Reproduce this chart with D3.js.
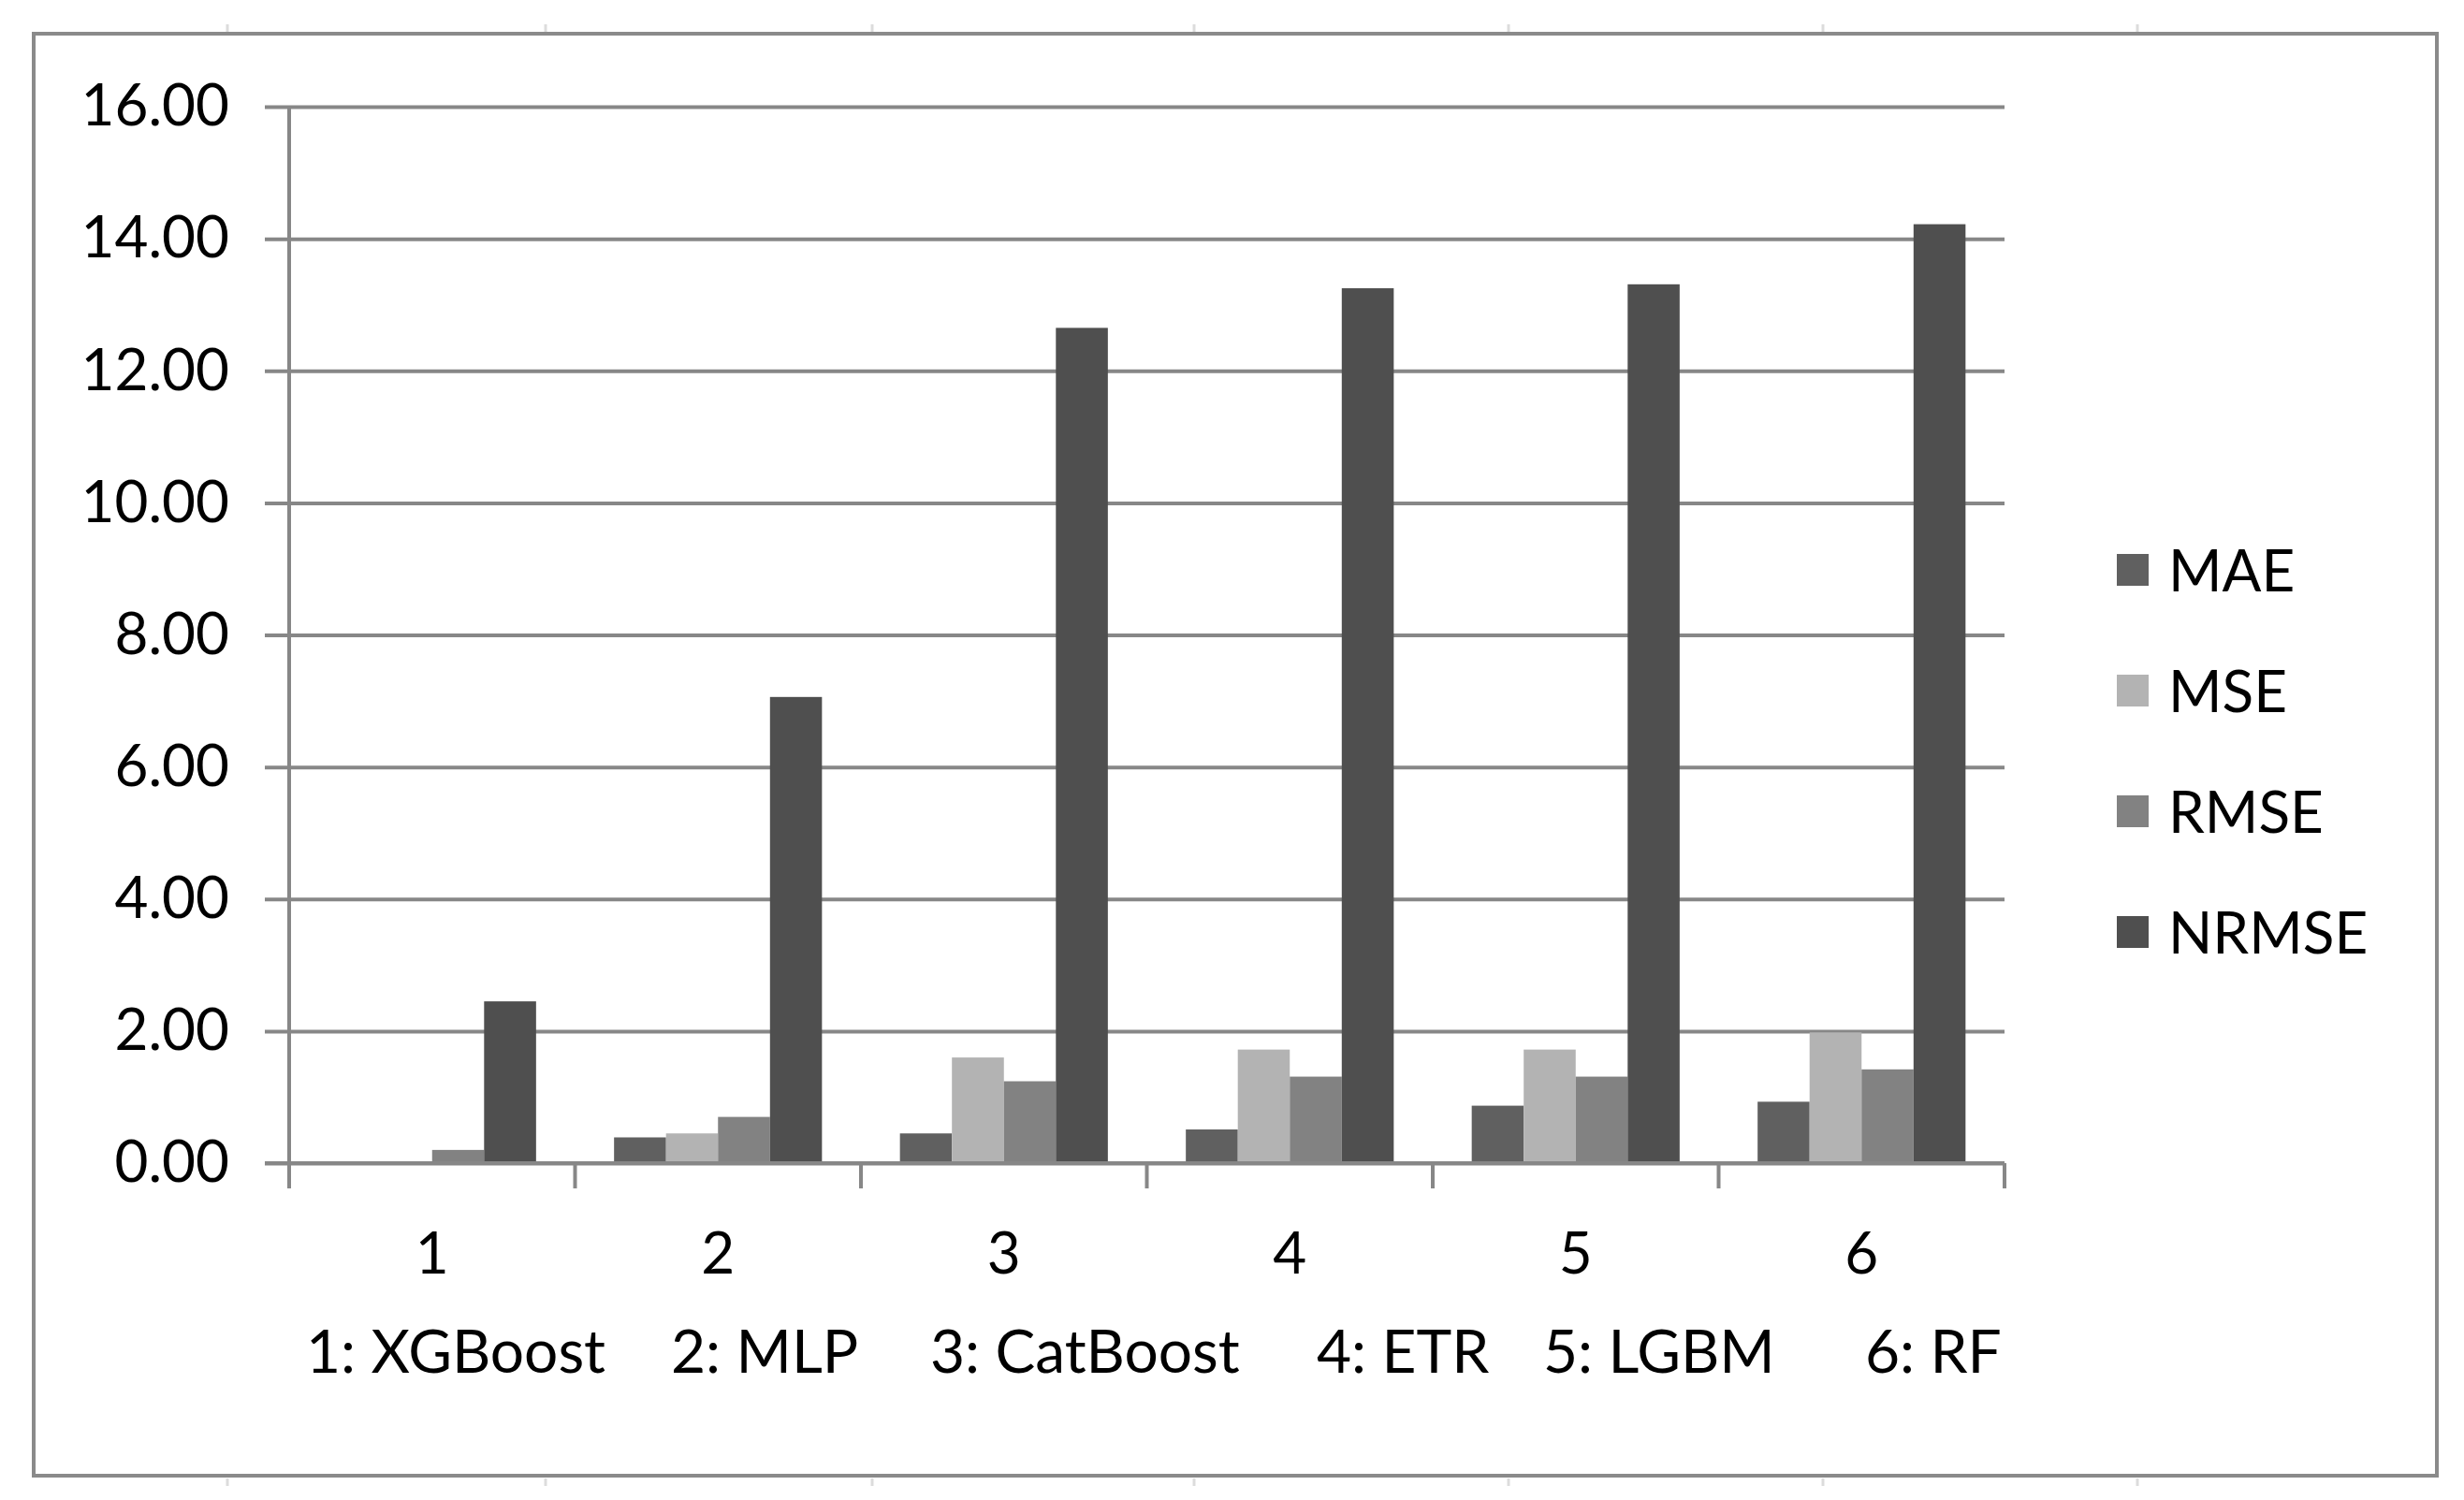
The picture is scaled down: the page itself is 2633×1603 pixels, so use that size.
<!DOCTYPE html>
<html>
<head>
<meta charset="utf-8">
<script src="https://cdn.jsdelivr.net/npm/d3@7"></script>
<style>
  body { margin: 0; background: #fff; }
  text { font-family: Lato, "Open Sans", sans-serif; fill: #000; }
</style>
</head>
<body>
<div id="chart"></div>
<script>
// data
var categories = ["1", "2", "3", "4", "5", "6"];
var modelNames = ["1: XGBoost", "2: MLP", "3: CatBoost", "4: ETR", "5: LGBM", "6: RF"];
var series = ["MAE", "MSE", "RMSE", "NRMSE"];
var maeValues   = [0.00, 0.39, 0.45, 0.51, 0.87, 0.93];
var mseValues   = [0.00, 0.45, 1.60, 1.72, 1.72, 1.98];
var rmseValues  = [0.20, 0.70, 1.24, 1.31, 1.31, 1.42];
var nrmseValues = [2.45, 7.06, 12.65, 13.25, 13.31, 14.22];
var yTicks = [0, 2, 4, 6, 8, 10, 12, 14, 16];

var seriesValues = {MAE: maeValues, MSE: mseValues, RMSE: rmseValues, NRMSE: nrmseValues};

// sizes
var W = 2633, H = 1603;
var plot = {left: 309, right: 2142, top: 114, bottom: 1243};
var gridColor = "#878787";

var color = d3.scaleOrdinal()
  .domain(series)
  .range(["#606060", "#b3b3b3", "#828282", "#4f4f4f"]);

var svg = d3.select("#chart")
  .append("svg")
    .attr("width", W)
    .attr("height", H);

svg.append("rect")
  .attr("width", W).attr("height", H)
  .attr("fill", "#fff");

// outer frame
svg.append("rect")
  .attr("x", 36).attr("y", 36)
  .attr("width", 2568).attr("height", 1541)
  .attr("fill", "none")
  .attr("stroke", "#8a8a8a")
  .attr("stroke-width", 4);

// faint page marks outside the frame
[243, 583, 932, 1276, 1612, 1948, 2284].forEach(function (mx) {
  svg.append("line").attr("x1", mx).attr("x2", mx).attr("y1", 26).attr("y2", 34)
    .attr("stroke", "#dcdcdc").attr("stroke-width", 3);
  svg.append("line").attr("x1", mx).attr("x2", mx).attr("y1", 1580).attr("y2", 1588)
    .attr("stroke", "#dcdcdc").attr("stroke-width", 3);
});

// scales
var x0 = d3.scaleBand()
  .domain(categories)
  .range([plot.left, plot.right])
  .padding(0);

var x1 = d3.scaleBand()
  .domain(series)
  .range([0, x0.bandwidth()])
  .paddingInner(0)
  .paddingOuter(0.75);

var y = d3.scaleLinear()
  .domain([0, 16])
  .range([plot.bottom, plot.top]);

// y axis with gridlines
var yAxis = svg.append("g")
  .attr("transform", "translate(" + (plot.left - 26) + ",0)")
  .call(d3.axisLeft(y)
    .tickValues(yTicks)
    .tickSize(-(plot.right - plot.left + 26))
    .tickPadding(38)
    .tickFormat(d3.format(".2f")));
yAxis.select(".domain").remove();
yAxis.selectAll(".tick line")
  .attr("stroke", gridColor)
  .attr("stroke-width", 4);
yAxis.selectAll(".tick text")
  .style("font-family", "Lato, sans-serif")
  .style("font-size", "62px")
  .attr("fill", "#000");

// vertical axis line
svg.append("line")
  .attr("x1", plot.left).attr("x2", plot.left)
  .attr("y1", plot.top).attr("y2", plot.bottom + 27)
  .attr("stroke", gridColor)
  .attr("stroke-width", 4);

// bars
var groups = svg.append("g")
  .selectAll("g")
  .data(categories)
  .enter()
  .append("g")
    .attr("transform", function (d) { return "translate(" + x0(d) + ",0)"; });

groups.selectAll("rect")
  .data(function (d, i) {
    return series.map(function (s) { return {key: s, value: seriesValues[s][i]}; });
  })
  .enter()
  .append("rect")
    .attr("x", function (d) { return x1(d.key); })
    .attr("y", function (d) { return y(d.value); })
    .attr("width", x1.bandwidth())
    .attr("height", function (d) { return y(0) - y(d.value); })
    .attr("fill", function (d) { return color(d.key); });

// category axis
svg.append("line")
  .attr("x1", plot.left - 26).attr("x2", plot.right)
  .attr("y1", plot.bottom).attr("y2", plot.bottom)
  .attr("stroke", gridColor)
  .attr("stroke-width", 4);

var bounds = categories.map(function (c) { return x0(c) + x0.bandwidth(); });
svg.append("g")
  .selectAll("line")
  .data(bounds)
  .enter()
  .append("line")
    .attr("x1", function (d) { return d; })
    .attr("x2", function (d) { return d; })
    .attr("y1", plot.bottom)
    .attr("y2", plot.bottom + 27)
    .attr("stroke", gridColor)
    .attr("stroke-width", 4);

svg.append("g")
  .selectAll("text")
  .data(categories)
  .enter()
  .append("text")
    .attr("x", function (d) { return x0(d) + x0.bandwidth() / 2; })
    .attr("y", 1361)
    .attr("text-anchor", "middle")
    .style("font-size", "62px")
    .text(function (d) { return d; });

// model name key under the axis
var nameX = [327, 717, 994, 1407, 1649, 1993];
svg.append("g")
  .selectAll("text")
  .data(modelNames)
  .enter()
  .append("text")
    .attr("x", function (d, i) { return nameX[i]; })
    .attr("y", 1467)
    .style("font-size", "64px")
    .text(function (d) { return d; });

// legend
var legend = svg.append("g")
  .selectAll("g")
  .data(series)
  .enter()
  .append("g")
    .attr("transform", function (d, i) { return "translate(2262," + (609 + i * 129) + ")"; });

legend.append("rect")
  .attr("x", 0).attr("y", -17)
  .attr("width", 34).attr("height", 34)
  .attr("fill", function (d) { return color(d); });

legend.append("text")
  .attr("x", 55)
  .attr("y", 23)
  .style("font-size", "62px")
  .text(function (d) { return d; });
</script>
</body>
</html>
